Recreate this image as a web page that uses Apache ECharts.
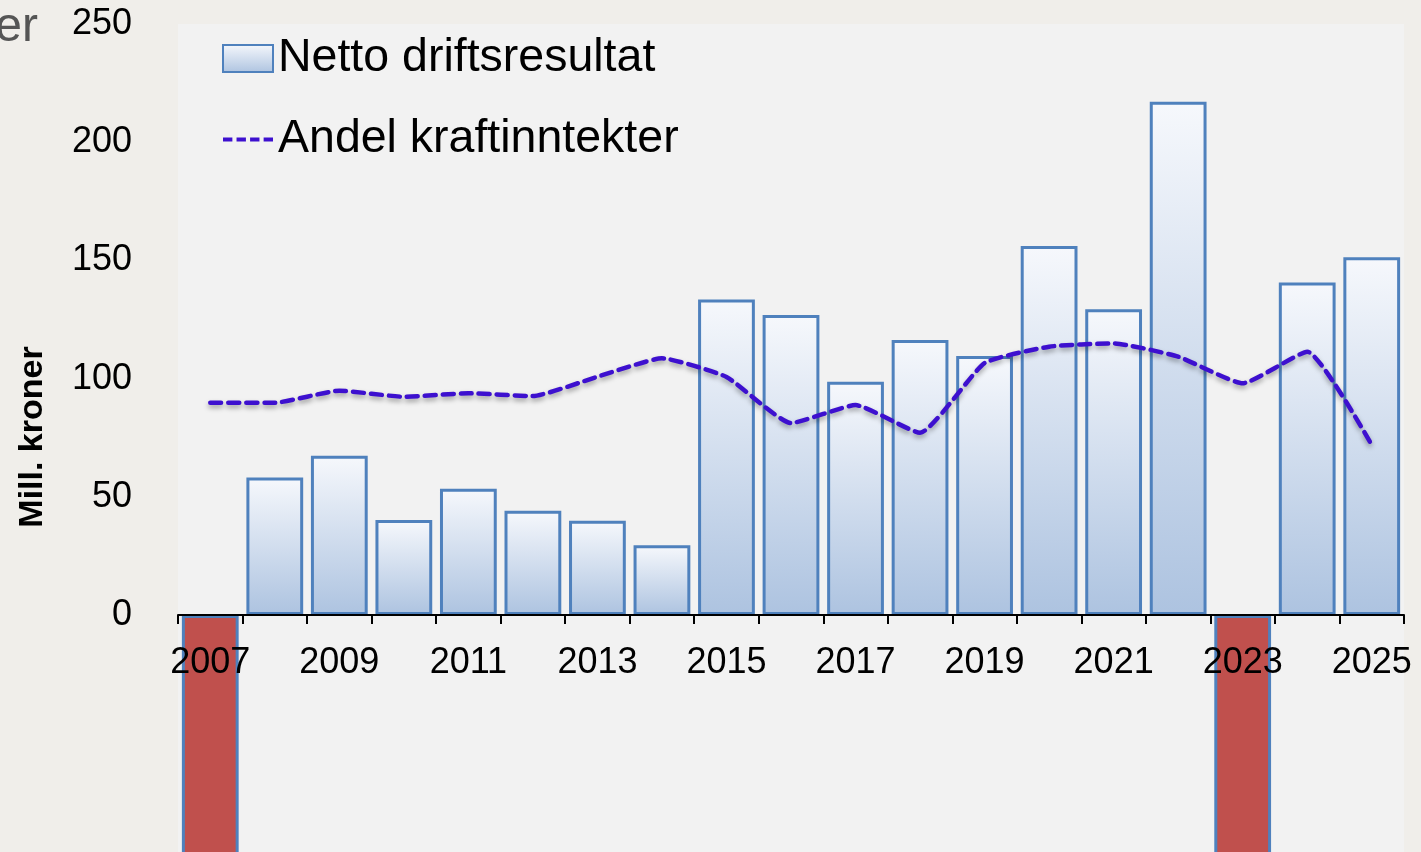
<!DOCTYPE html>
<html>
<head>
<meta charset="utf-8">
<script src="https://cdn.jsdelivr.net/npm/echarts@6/dist/echarts.min.js"></script>
<style>
html,body{margin:0;padding:0;background:#f0eeea;}
#chart{width:1421px;height:852px;}
</style>
</head>
<body>
<div id="chart"></div>
<script>
var years = ['2007','2008','2009','2010','2011','2012','2013','2014','2015','2016','2017','2018','2019','2020','2021','2022','2023','2024','2025'];
var nettoDriftsresultat = [-110, 58.2, 67.4, 40.2, 53.4, 44.1, 39.9, 29.5, 133.5, 126.9, 98.7, 116.3, 109.6, 156.1, 129.3, 217.1, -110, 140.7, 151.3];
var andelKraftinntekter = [89.8, 89.8, 94.9, 92.3, 93.8, 92.6, 100.8, 108.6, 100.7, 81.2, 88.8, 77.1, 106.6, 113.5, 114.9, 109.3, 98, 111.4, 71.9];
var yTicks = [0, 50, 100, 150, 200, 250];

var FONT = '"Liberation Sans", Arial, sans-serif';
var chart = echarts.init(document.getElementById('chart'));

var barGradient = new echarts.graphic.LinearGradient(0, 0, 0, 1, [
  {offset: 0, color: '#f6f8fc'},
  {offset: 1, color: '#adc3e0'}
]);

var barData = nettoDriftsresultat.map(function (v) {
  if (v < 0) {
    return {value: v, itemStyle: {color: '#c0504d', borderColor: '#4f81bd', borderWidth: 3}};
  }
  return v;
});

chart.setOption({
  backgroundColor: '#f0eeea',
  animation: false,
  graphic: [{
    type: 'rect', z: -10, silent: true,
    shape: {x: 178, y: 24, width: 1226, height: 830},
    style: {fill: '#f2f2f2'}
  }, {
    type: 'text', x: 38, y: 28,
    style: {text: 'er', fontSize: 48, fontFamily: FONT, fill: '#555555', align: 'right', verticalAlign: 'middle'}
  }, {
    type: 'text', x: 33, y: 437, rotation: Math.PI / 2,
    style: {text: 'Mill. kroner', fontSize: 34, fontWeight: 'bold', fontFamily: FONT, fill: '#000', align: 'center', verticalAlign: 'middle'}
  }],
  grid: {
    left: 178, right: 17, top: 24, bottom: 237,
    outerBoundsMode: 'none', containLabel: false,
    show: false
  },
  legend: {
    left: 222, top: 35, orient: 'vertical', padding: 0,
    itemWidth: 50, itemHeight: 27, itemGap: 34,
    textStyle: {fontSize: 46.5, fontFamily: FONT, color: '#000', lineHeight: 44},
    data: [
      {name: 'Netto driftsresultat', icon: 'rect'},
      {name: 'Andel kraftinntekter', icon: 'path://M0,0h9v4h-9zM13,0h9v4h-9zM26,0h9v4h-9zM39,0h9v4h-9z'}
    ]
  },
  xAxis: {
    type: 'category', data: years, z: 10,
    boundaryGap: true,
    axisLine: {show: true, onZero: true, lineStyle: {color: '#000', width: 2}},
    axisTick: {show: true, interval: 0, alignWithLabel: false, length: 9, lineStyle: {color: '#000', width: 2}},
    axisLabel: {interval: 1, fontSize: 36, fontFamily: FONT, color: '#000', margin: 30},
    splitLine: {show: false}
  },
  yAxis: {
    type: 'value', min: 0, max: 250, interval: 50,
    axisLine: {show: false}, axisTick: {show: false},
    splitLine: {show: false},
    axisLabel: {
      fontSize: 36, fontFamily: FONT, color: '#000', margin: 46,
      formatter: function (v) { return yTicks.indexOf(v) >= 0 ? String(v) : ''; }
    }
  },
  series: [{
    name: 'Netto driftsresultat', type: 'bar',
    data: barData, barCategoryGap: '12%', clip: false,
    itemStyle: {color: barGradient, borderColor: '#4f81bd', borderWidth: 3},
    z: 2
  }, {
    name: 'Andel kraftinntekter', type: 'line',
    data: andelKraftinntekter, smooth: 0.15,
    symbol: 'none', showSymbol: false,
    lineStyle: {color: '#3d10cf', width: 4.5, type: [11, 7], cap: 'round',
      shadowColor: 'rgba(0,0,0,0.35)', shadowBlur: 5, shadowOffsetY: 3},
    itemStyle: {color: '#3d10cf'},
    z: 3
  }]
});
</script>
</body>
</html>
